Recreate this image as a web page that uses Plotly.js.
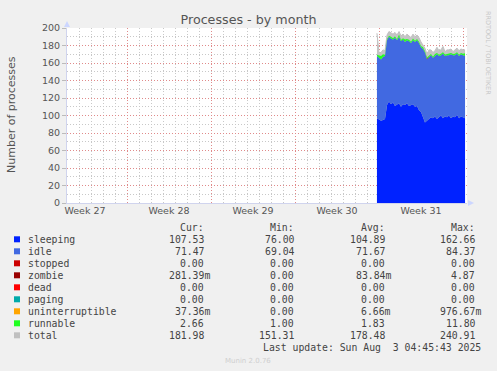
<!DOCTYPE html>
<html>
<head>
<meta charset="utf-8">
<script src="https://cdn.plot.ly/plotly-3.0.1.min.js"></script>
<style>
html,body{margin:0;padding:0;background:#f0f0f0;}
#chart{width:497px;height:371px;}
</style>
</head>
<body>
<div id="chart"></div>
<script>
// ---- data (days since start of visible month window; 1 day = 1 unit) ----
const days = [25.83,26.00,26.17,26.33,26.50,26.67,26.83,27.00,27.17,27.33,27.50,27.67,27.83,28.00,28.17,28.33,28.50,28.67,28.83,29.00,29.17,29.33,29.50,29.67,29.83,30.00,30.17,30.33,30.50,30.67,30.83,31.00,31.17,31.33,31.50,31.67,31.83,32.00,32.17,32.33,32.50,32.67,32.83,33.00,33.17];
const sleeping = [97,95,94,95,96,112,116,113,115,111,113,114,110,113,112,114,111,112,113,110,111,106,104,98,92,94,96,98,97,99,96,98,100,97,99,98,100,97,99,98,101,97,99,98,97];
const idle = [71,71,70,72,72,74,74,75,72,78,73,76,75,74,72,72,74,71,73,74,75,77,74,78,80,70,71,71,69,69,74,70,69,74,69,71,69,73,70,71,70,71,71,71,71];
const stopped = [0,0,0,0,0,0,0,0,0,0,0,0,0,0,0,0,0,0,0,0,0,0,0,0,0,0,0,0,0,0,0,0,0,0,0,0,0,0,0,0,0,0,0,0,0];
const zombie = [0,0,0,0,0,0,0,0,0,0,0,0,0,0,0,0,0,0,0,0,0,0,0,0,0,1,0,0,0,0,0,0,0,0,0,0,0,0,0,0,0,0,0,0,0.3];
const dead = [0,0,0,0,0,0,0,0,0,0,0,0,0,0,0,0,0,0,0,0,0,0,0,0,0,0,0,0,0,0,0,0,0,0,0,0,0,0,0,0,0,0,0,0,0];
const paging = [0,0,0,0,0,0,0,0,0,0,0,0,0,0,0,0,0,0,0,0,0,0,0,0,0,0,0,0,0,0,0,0,0,0,0,0,0,0,0,0,0,0,0,0,0];
const uninterruptible = [0,0,0,0,0,0,0,0,0,0,0,0,0,0,0,0,0,0,0,0,0,0,0,0,0,0,0,0,0,0,0,0,0,0,0,0,0,0,0,0,0,0,0,0,0.04];
const runnable = [1.5,2.5,4,3,1.5,1.5,1.2,2,1.3,1.5,1.2,2.5,1.4,1.2,3,1.3,1.5,1.2,2,1.3,1.4,1.2,1.5,2,1.3,1.2,1.5,1.3,1.2,2.2,1.4,1.3,1.5,1.2,1.6,1.3,2.2,1.4,1.3,1.5,1.2,1.4,1.3,1.5,2.7];
const total = [194,172,172,175,174,192,196,194,193,195,192,196,191,193,190,193,191,189,193,190,192,189,184,181,177,170,175,175,172,174,178,174,175,179,173,175,175,176,173,175,177,174,176,175,175];

const weekLabels = ["Week 27","Week 28","Week 29","Week 30","Week 31"];
const weekLabelPos = [1.5,8.5,15.5,22.5,29.5];
const weekStarts = [5,12,19,26,33];

const seriesNames = ["sleeping","idle","stopped","zombie","dead","paging","uninterruptible","runnable","total"];
const seriesColors = ["#0022ff","#4169e1","#cc0000","#990000","#ff0000","#00aaaa","#ffa500","#22ff22","#c0c0c0"];
const curVals = ["107.53 ","71.47 ","0.00 ","281.39m","0.00 ","0.00 ","37.36m","2.66 ","181.98 "];
const minVals = ["76.00 ","69.04 ","0.00 ","0.00 ","0.00 ","0.00 ","0.00 ","1.00 ","151.31 "];
const avgVals = ["104.89 ","71.67 ","0.00 ","83.84m","0.00 ","0.00 ","6.66m","1.83 ","178.48 "];
const maxVals = ["162.66 ","84.37 ","0.00 ","4.87 ","0.00 ","0.00 ","976.67m","11.80 ","240.91 "];

// ---- layout geometry (pixels) ----
const W = 497, H = 371;
const L = 67, R = 467, T = 28, B = 203;
const px = x => (x - L) / (R - L);
const py = y => (B - y) / (B - T);

const traces = [];
// total drawn first, so only the part above the stack stays visible
traces.push({
  type: 'scatter', mode: 'lines', x: days, y: total, fill: 'tozeroy',
  fillcolor: '#c4c4c4', line: {width: 1, color: '#c0c0c0'},
  name: 'total', hoverinfo: 'skip', xaxis: 'x', yaxis: 'y'
});
const stacked = [sleeping, idle, stopped, zombie, dead, paging, uninterruptible, runnable];
stacked.forEach((vals, i) => traces.push({
  type: 'scatter', mode: 'lines', x: days, y: vals,
  stackgroup: 'one', fill: 'tonexty',
  fillcolor: seriesColors[i], line: {width: 0, color: seriesColors[i]},
  name: seriesNames[i], hoverinfo: 'skip', xaxis: 'x', yaxis: 'y'
}));
traces.push({type:'scatter', mode:'none', x:[0,33.333], y:[0,0], xaxis:'x2', yaxis:'y', hoverinfo:'skip', showlegend:false});

const mono = "DejaVu Sans Mono, monospace";
const sans = "DejaVu Sans, sans-serif";
const txt = '#444';
const annotations = [];
const shapes = [];

annotations.push({xref:'paper', yref:'paper', x:px(11), y:py(114), text:'Number of processes', textangle:-90,
  showarrow:false, font:{family:sans, size:11, color:'#555'}, xanchor:'center', yanchor:'middle'});
annotations.push({xref:'paper', yref:'paper', x:px(488), y:py(53), text:'RRDTOOL / TOBI OETIKER', textangle:90,
  showarrow:false, font:{family:sans, size:6.5, color:'#c8c8c8'}, xanchor:'center', yanchor:'middle'});

const colRight = [212, 302, 393, 483];
const headers = ["Cur:","Min:","Avg:","Max:"];
headers.forEach((h, i) => {
  annotations.push({xref:'paper', yref:'paper', x:px(colRight[i]-6), y:py(227.3), text:h, showarrow:false,
    font:{family:mono, size:9.8, color:txt}, xanchor:'right', yanchor:'middle'});
});
const cols = [curVals, minVals, avgVals, maxVals];
seriesNames.forEach((n, r) => {
  const yy = 239.3 + 12 * r;
  shapes.push({type:'rect', xref:'paper', yref:'paper', x0:px(14), x1:px(20), y0:py(yy+3), y1:py(yy-3),
    fillcolor:seriesColors[r], line:{width:0}});
  annotations.push({xref:'paper', yref:'paper', x:px(26), y:py(yy), text:n, showarrow:false,
    font:{family:mono, size:9.8, color:txt}, xanchor:'left', yanchor:'middle'});
  cols.forEach((c, ci) => {
    annotations.push({xref:'paper', yref:'paper', x:px(colRight[ci]), y:py(yy), text:c[r].replace(/ $/, '\u00a0'), showarrow:false,
      font:{family:mono, size:9.8, color:txt}, xanchor:'right', yanchor:'middle'});
  });
});
annotations.push({xref:'paper', yref:'paper', x:px(483), y:py(347.3), text:'Last update: Sun Aug \u00a03 04:45:43 2025', showarrow:false,
  font:{family:mono, size:9.8, color:txt}, xanchor:'right', yanchor:'middle'});
annotations.push({xref:'paper', yref:'paper', x:px(248), y:py(360.7), text:'Munin 2.0.76', showarrow:false,
  font:{family:sans, size:7, color:'#cfcfcf'}, xanchor:'center', yanchor:'middle'});

shapes.push({type:'path', xref:'paper', yref:'paper',
  path:`M ${px(67)},${py(21)} L ${px(64)},${py(27)} L ${px(70)},${py(27)} Z`, fillcolor:'#ccd6ff', line:{width:0}});
shapes.push({type:'path', xref:'paper', yref:'paper',
  path:`M ${px(474)},${py(203)} L ${px(468)},${py(200)} L ${px(468)},${py(206)} Z`, fillcolor:'#ccd6ff', line:{width:0}});

const majorGrid = '#e08a8a', minorGrid = '#c8c8c8', dots = '1px,2px';
const layout = {
  width: W, height: H,
  margin: {l: L, r: W - R, t: T, b: H - B, pad: 0},
  paper_bgcolor: '#f0f0f0', plot_bgcolor: '#ffffff',
  showlegend: false,
  title: {text: 'Processes - by month', x: 0.5, xref: 'container', y: 1 - 19.5/371, yref: 'container',
    xanchor: 'center', yanchor: 'middle', font: {family: sans, size: 12.7, color: '#555'}},
  xaxis: {range: [0, 33.333], tickvals: weekStarts, ticktext: weekStarts.map(() => ''),
    showgrid: true, gridcolor: majorGrid, griddash: dots, gridwidth: 1,
    minor: {tick0: 0, dtick: 1, showgrid: true, gridcolor: minorGrid, griddash: dots, gridwidth: 1, ticks: ''},
    showline: true, linecolor: '#d0d4ee', linewidth: 1, zeroline: false, ticks: '', fixedrange: true},
  xaxis2: {overlaying: 'x', anchor: 'y', side: 'bottom', range: [0, 33.333], tickvals: weekLabelPos, ticktext: weekLabels,
    showgrid: false, zeroline: false, showline: false, ticks: '',
    tickfont: {family: sans, size: 9.5, color: '#555'}},
  yaxis: {range: [0, 200], dtick: 20, tick0: 0, showgrid: true, gridcolor: majorGrid, griddash: dots, gridwidth: 1,
    minor: {dtick: 10, showgrid: true, gridcolor: minorGrid, griddash: dots, gridwidth: 1},
    showline: true, linecolor: '#d0d4ee', linewidth: 1, zeroline: false,
    ticks: 'outside', ticklen: 4, tickcolor: '#bbb',
    tickfont: {family: sans, size: 9.5, color: '#555'}, fixedrange: true},
  annotations: annotations,
  shapes: shapes
};

Plotly.newPlot('chart', traces, layout, {staticPlot: true, displayModeBar: false});
</script>
</body>
</html>
